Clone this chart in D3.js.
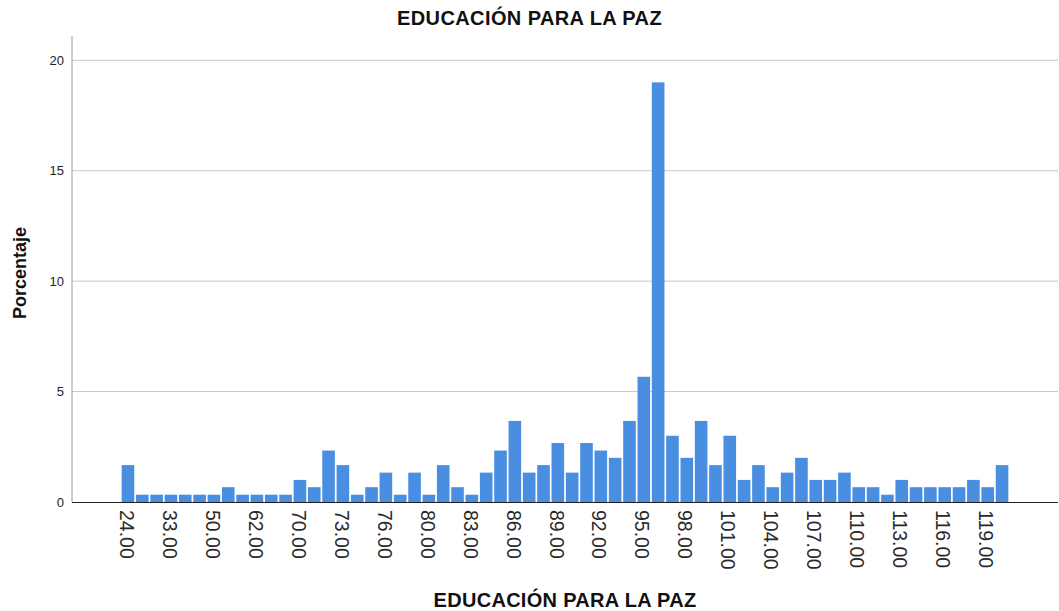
<!DOCTYPE html>
<html>
<head>
<meta charset="utf-8">
<script src="https://cdn.jsdelivr.net/npm/d3@7"></script>
<style>
  body { margin: 0; background: #fff; }
  svg { display: block; font-family: "Liberation Sans", Arial, sans-serif; }
  .grid line { stroke: #c8c8c8; stroke-width: 1; }
  .ytick text { font-size: 13px; fill: #222; }
  .xtick text { font-size: 19.5px; fill: #2a2a2a; }
</style>
</head>
<body>
<div id="chart"></div>
<script>
// puntaje values (categories) and percentage of cases for each
var categories = [24, 28, 31, 33, 40, 45, 50, 54, 58, 62, 66, 68,
  70, 71, 72, 73, 74, 75, 76, 77, 78, 80,
  81, 82, 83, 84, 85, 86, 87, 88, 89, 90, 91, 92, 93, 94, 95, 96, 97, 98, 99, 100,
  101, 102, 103, 104, 105, 106, 107, 108, 109, 110, 111, 112, 113, 114, 115, 116, 117, 118, 119, 120];

var percentages = [1.67, 0.33, 0.33, 0.33, 0.33, 0.33, 0.33, 0.67, 0.33, 0.33, 0.33, 0.33,
  1.00, 0.67, 2.33, 1.67, 0.33, 0.67, 1.33, 0.33, 1.33, 0.33,
  1.67, 0.67, 0.33, 1.33, 2.33, 3.67, 1.33, 1.67, 2.67, 1.33, 2.67, 2.33, 2.00, 3.67, 5.67, 19.00, 3.00, 2.00, 3.67, 1.67,
  3.00, 1.00, 1.67, 0.67, 1.33, 2.00, 1.00, 1.00, 1.33, 0.67, 0.67, 0.33, 1.00, 0.67, 0.67, 0.67, 0.67, 1.00, 0.67, 1.67];

var yTicks = [0, 5, 10, 15, 20];

var title = "EDUCACIÓN PARA LA PAZ";
var xTitle = "EDUCACIÓN PARA LA PAZ";
var yTitle = "Porcentaje";

var width = 1059, height = 611;
var plotLeft = 72, plotRight = 1058, plotTop = 36, plotBottom = 502;

var svg = d3.select("#chart").append("svg")
  .attr("width", width)
  .attr("height", height);

var x = d3.scaleBand()
  .domain(categories)
  .range([120.8, 1009.2])
  .paddingInner(0.12)
  .paddingOuter(0.06);

var y = d3.scaleLinear()
  .domain([0, 21.1])
  .range([plotBottom, plotTop]);

// horizontal gridlines
svg.append("g").attr("class", "grid")
  .selectAll("line")
  .data(yTicks.filter(function(d) { return d > 0; }))
  .enter().append("line")
  .attr("x1", plotLeft).attr("x2", plotRight)
  .attr("y1", function(d) { return y(d); })
  .attr("y2", function(d) { return y(d); });

// bars
svg.append("g")
  .selectAll("rect")
  .data(categories)
  .enter().append("rect")
  .attr("x", function(d) { return x(d); })
  .attr("width", x.bandwidth())
  .attr("y", function(d, i) { return y(percentages[i]); })
  .attr("height", function(d, i) { return y(0) - y(percentages[i]); })
  .attr("fill", "#4a8ee2");

// y axis
var yAxis = svg.append("g")
  .attr("class", "ytick")
  .attr("transform", "translate(" + plotLeft + ",0)")
  .call(d3.axisLeft(y).tickValues(yTicks).tickSize(0).tickPadding(8));
yAxis.select(".domain").remove();
yAxis.selectAll("text").attr("font-family", null).attr("font-size", null);

svg.append("line")
  .attr("x1", plotLeft).attr("x2", plotLeft)
  .attr("y1", plotTop).attr("y2", plotBottom)
  .attr("stroke", "#9a9a9a");

svg.append("line")
  .attr("x1", plotLeft).attr("x2", plotRight)
  .attr("y1", plotBottom + 0.5).attr("y2", plotBottom + 0.5)
  .attr("stroke", "#222");

// x tick labels, every third category, rotated
svg.append("g").attr("class", "xtick")
  .selectAll("text")
  .data(categories.filter(function(d, i) { return i % 3 === 0; }))
  .enter().append("text")
  .attr("transform", function(d) {
    return "translate(" + (x(d) + x.bandwidth() / 2 - 1.5) + "," + (plotBottom + 8) + ") rotate(90)";
  })
  .attr("dy", "0.35em")
  .attr("text-anchor", "start")
  .text(function(d) { return d3.format(".2f")(d); });

// titles
svg.append("text")
  .attr("x", width / 2).attr("y", 25)
  .attr("text-anchor", "middle")
  .attr("font-size", 20).attr("font-weight", "bold").attr("fill", "#111")
  .attr("letter-spacing", 0.4)
  .text(title);

svg.append("text")
  .attr("x", (plotLeft + plotRight) / 2).attr("y", 607)
  .attr("text-anchor", "middle")
  .attr("font-size", 20).attr("font-weight", "bold").attr("fill", "#111")
  .attr("letter-spacing", 0.3)
  .text(xTitle);

svg.append("text")
  .attr("transform", "translate(26," + ((plotTop + plotBottom) / 2 + 4) + ") rotate(-90)")
  .attr("text-anchor", "middle")
  .attr("font-size", 18).attr("font-weight", "bold").attr("fill", "#111")
  .text(yTitle);
</script>
</body>
</html>
